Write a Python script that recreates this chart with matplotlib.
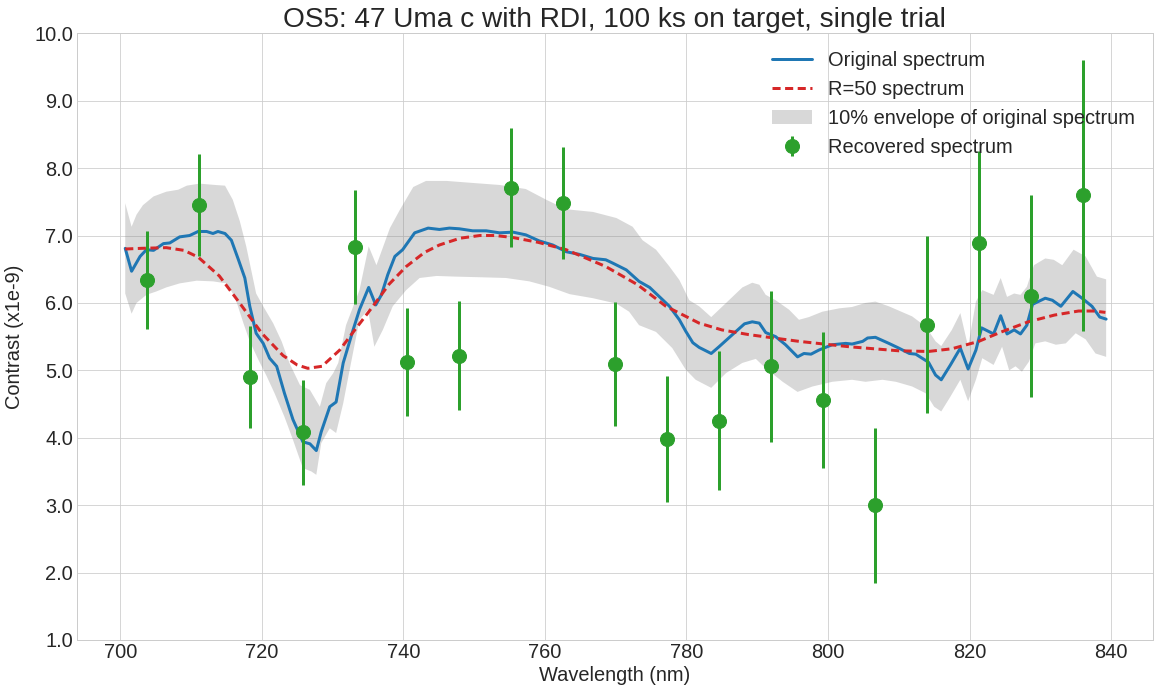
import matplotlib
matplotlib.use("Agg")
import matplotlib.pyplot as plt
from matplotlib.ticker import FormatStrFormatter
import numpy as np

# original spectrum (blue)
wl_orig = [700.7, 701.6, 702.8, 703.7, 704.7, 706.1, 707.0, 708.4, 709.8, 711.0,
           712.2, 713.1, 713.8, 714.8, 715.7, 716.7, 717.6, 718.3, 719.2, 720.2,
           721.1, 722.1, 723.2, 724.4, 725.8, 726.8, 727.7, 728.4, 729.6, 730.5,
           731.5, 732.9, 733.8, 735.1, 736.1, 736.9, 737.8, 738.8, 739.9, 741.6,
           743.5, 745.1, 746.5, 747.9, 749.8, 751.7, 753.6, 755.5, 757.3, 759.2,
           761.1, 763.0, 764.9, 766.8, 768.6, 769.6, 771.5, 773.3, 774.8, 776.2,
           777.6, 779.0, 779.9, 780.9, 781.8, 783.5, 784.6, 786.5, 788.2, 789.3,
           790.3, 791.2, 792.6, 794.0, 795.7, 796.6, 797.6, 798.7, 800.6, 802.5,
           803.4, 804.9, 805.6, 806.7, 808.6, 810.0, 811.5, 812.4, 814.2, 815.2,
           816.0, 817.3, 818.7, 819.8, 820.9, 821.7, 823.4, 824.4, 825.3, 826.3,
           827.2, 828.1, 828.9, 830.7, 831.7, 832.9, 834.6, 835.9, 837.3, 838.4,
           839.3]
contrast_orig = [6.81, 6.47, 6.69, 6.79, 6.78, 6.88, 6.89, 6.98, 7.00, 7.06,
                 7.06, 7.03, 7.06, 7.03, 6.93, 6.64, 6.37, 5.95, 5.55, 5.40,
                 5.18, 5.06, 4.66, 4.27, 3.94, 3.91, 3.81, 4.09, 4.46, 4.53,
                 5.11, 5.60, 5.90, 6.23, 5.97, 6.12, 6.42, 6.69, 6.79, 7.04,
                 7.11, 7.09, 7.11, 7.10, 7.07, 7.07, 7.04, 7.05, 7.01, 6.92,
                 6.86, 6.76, 6.72, 6.66, 6.64, 6.59, 6.49, 6.32, 6.23, 6.09,
                 5.95, 5.75, 5.58, 5.41, 5.34, 5.25, 5.35, 5.53, 5.69, 5.72,
                 5.70, 5.56, 5.50, 5.38, 5.20, 5.25, 5.24, 5.30, 5.38, 5.40,
                 5.39, 5.43, 5.48, 5.49, 5.40, 5.33, 5.25, 5.24, 5.12, 4.93,
                 4.86, 5.08, 5.33, 5.02, 5.30, 5.63, 5.54, 5.81, 5.54, 5.60,
                 5.54, 5.67, 5.98, 6.07, 6.04, 5.95, 6.17, 6.07, 5.95, 5.79,
                 5.76]

# R=50 spectrum (red dashed)
wl_r50 = [700.7, 703.0, 706.5, 709.0, 711.0, 714.0, 717.0, 720.0, 723.0, 725.0,
          726.5, 728.5, 731.0, 733.0, 735.7, 738.0, 740.4, 743.0, 745.1, 748.0,
          750.8, 753.0, 755.5, 759.0, 763.0, 768.6, 773.1, 777.1, 781.8, 785.0,
          788.8, 795.9, 803.0, 810.0, 814.2, 817.5, 821.3, 824.5, 828.3, 832.0,
          835.4, 837.5, 839.2]
contrast_r50 = [6.80, 6.81, 6.82, 6.78, 6.68, 6.40, 5.98, 5.55, 5.22, 5.08,
                5.03, 5.06, 5.30, 5.58, 5.95, 6.28, 6.54, 6.75, 6.86, 6.96,
                7.00, 7.00, 6.97, 6.90, 6.79, 6.54, 6.27, 5.95, 5.70, 5.60,
                5.53, 5.43, 5.35, 5.29, 5.28, 5.32, 5.43, 5.57, 5.72, 5.82,
                5.88, 5.88, 5.86]

# 10% envelope, upper and lower edges
wl_env_hi = [700.7, 701.6, 702.3, 703.2, 704.7, 706.5, 708.2, 709.4, 711.2, 713.4,
             714.8, 715.9, 716.9, 717.8, 719.2, 720.2, 721.6, 722.8, 723.9, 725.4,
             726.8, 728.2, 729.1, 730.1, 730.8, 731.9, 733.8, 735.1, 736.2, 738.1,
             739.5, 741.4, 743.2, 746.1, 749.8, 753.6, 757.3, 760.2, 763.0, 766.8,
             770.1, 772.4, 773.8, 775.7, 777.6, 779.0, 780.4, 781.8, 783.5, 785.1,
             786.5, 787.9, 789.3, 790.3, 791.2, 792.6, 794.5, 795.9, 797.3, 799.2,
             801.6, 803.4, 805.3, 806.7, 808.6, 811.9, 813.8, 815.2, 816.0, 817.5,
             818.7, 819.8, 820.9, 821.8, 823.4, 824.4, 825.3, 826.3, 827.2, 828.1,
             829.1, 830.7, 831.9, 833.1, 834.7, 836.4, 838.0, 839.3]
contrast_env_hi = [7.48, 7.13, 7.31, 7.45, 7.58, 7.65, 7.68, 7.74, 7.77, 7.75,
                   7.74, 7.53, 7.21, 6.84, 6.14, 5.95, 5.70, 5.43, 5.11, 4.78,
                   4.71, 4.46, 4.81, 4.96, 5.11, 5.67, 6.19, 6.84, 6.56, 7.11,
                   7.38, 7.72, 7.81, 7.81, 7.78, 7.75, 7.69, 7.53, 7.39, 7.35,
                   7.26, 7.13, 6.93, 6.79, 6.54, 6.34, 6.04, 5.95, 5.79, 5.95,
                   6.09, 6.23, 6.30, 6.27, 6.12, 6.04, 5.90, 5.75, 5.79, 5.87,
                   5.92, 5.94, 6.00, 6.02, 5.95, 5.80, 5.65, 5.43, 5.36, 5.60,
                   5.85, 5.35, 6.02, 6.19, 6.12, 6.37, 6.09, 6.14, 6.12, 6.24,
                   6.56, 6.66, 6.64, 6.56, 6.79, 6.69, 6.39, 6.35]
wl_env_lo = [700.7, 701.6, 702.3, 703.7, 705.1, 706.5, 708.4, 710.8, 713.1, 715.0,
             716.2, 717.4, 718.3, 719.5, 720.7, 721.8, 723.2, 724.4, 725.8, 727.0,
             727.7, 728.4, 729.6, 730.5, 731.5, 732.4, 733.8, 735.0, 735.9, 737.1,
             738.5, 740.4, 742.3, 744.7, 747.5, 751.2, 754.5, 757.8, 760.6, 763.5,
             766.8, 770.1, 771.9, 773.3, 775.7, 778.0, 779.9, 781.3, 783.5, 785.6,
             787.9, 789.8, 791.2, 793.6, 795.7, 797.8, 800.6, 803.4, 805.3, 807.7,
             809.6, 811.9, 813.8, 815.0, 816.0, 817.3, 818.7, 819.8, 820.9, 821.8,
             823.4, 824.6, 825.6, 826.5, 827.4, 828.4, 829.3, 830.7, 832.2, 833.6,
             835.0, 836.4, 837.8, 839.3]
contrast_env_lo = [6.14, 5.84, 6.00, 6.12, 6.17, 6.23, 6.29, 6.33, 6.32, 6.29,
                   6.09, 5.70, 5.43, 5.16, 4.91, 4.66, 4.31, 3.97, 3.55, 3.50,
                   3.45, 3.92, 4.14, 4.07, 4.51, 5.00, 5.75, 5.90, 5.35, 5.60,
                   5.95, 6.19, 6.37, 6.40, 6.39, 6.38, 6.37, 6.32, 6.24, 6.13,
                   6.07, 5.99, 5.87, 5.67, 5.57, 5.33, 5.01, 4.86, 4.74, 4.96,
                   5.11, 5.17, 5.03, 4.83, 4.68, 4.76, 4.83, 4.86, 4.83, 4.86,
                   4.83, 4.76, 4.66, 4.46, 4.39, 4.61, 4.86, 4.54, 4.86, 5.18,
                   5.08, 5.35, 5.00, 5.06, 4.98, 5.13, 5.40, 5.43, 5.38, 5.40,
                   5.55, 5.46, 5.25, 5.20]

# recovered spectrum (green points)
wl_rec = [703.8, 711.1, 718.4, 725.8, 733.1, 740.5, 747.8, 755.2, 762.5, 769.9,
          777.2, 784.6, 792.0, 799.3, 806.7, 814.0, 821.4, 828.7, 836.1]
contrast_rec = [6.34, 7.45, 4.90, 4.08, 6.83, 5.12, 5.22, 7.71, 7.48, 5.09,
                3.98, 4.25, 5.06, 4.56, 3.00, 5.68, 6.89, 6.10, 7.60]
err_rec = [0.72, 0.76, 0.76, 0.78, 0.84, 0.80, 0.81, 0.88, 0.83, 0.92,
           0.94, 1.03, 1.12, 1.01, 1.15, 1.32, 1.37, 1.50, 2.01]

plt.style.use('seaborn-v0_8-whitegrid')
plt.rcParams['font.family'] = ['Liberation Sans', 'DejaVu Sans']
plt.rcParams['text.color'] = '.15'
plt.rcParams['axes.labelcolor'] = '.15'
plt.rcParams['xtick.color'] = '.15'
plt.rcParams['ytick.color'] = '.15'

fig = plt.figure(figsize=(1154 / 72, 688 / 72), dpi=72)
ax = fig.add_axes([0.0665, 0.0698, 0.9325, 0.8818])

ax.plot(wl_orig, contrast_orig, color='#1f77b4', lw=3, label='Original spectrum')
ax.plot(wl_r50, contrast_r50, color='#d62728', lw=3, dashes=(2.7, 1.5), label='R=50 spectrum')
env_x = wl_env_hi + wl_env_lo[::-1]
env_y = contrast_env_hi + contrast_env_lo[::-1]
ax.fill(env_x, env_y, color='gray', alpha=0.3, lw=0, label='10% envelope of original spectrum')
ax.errorbar(wl_rec, contrast_rec, yerr=err_rec, fmt='o', color='#2ca02c', ms=14,
            elinewidth=3, capsize=0, label='Recovered spectrum')

ax.set_xlim(693.85, 845.9)
ax.set_ylim(1, 10)
ax.set_xticks(np.arange(700, 841, 20))
ax.set_yticks(np.arange(1, 11, 1))
ax.yaxis.set_major_formatter(FormatStrFormatter('%.1f'))
ax.tick_params(labelsize=20)
ax.set_xlabel('Wavelength (nm)', fontsize=20, labelpad=4)
ax.set_ylabel('Contrast (x1e-9)', fontsize=20, labelpad=10)
ax.set_title('OS5: 47 Uma c with RDI, 100 ks on target, single trial', fontsize=28, pad=4)
for s in ax.spines.values():
    s.set_color('.8')

ax.legend(loc='upper right', fontsize=20, frameon=False)

fig.savefig('out.png', dpi=72)
